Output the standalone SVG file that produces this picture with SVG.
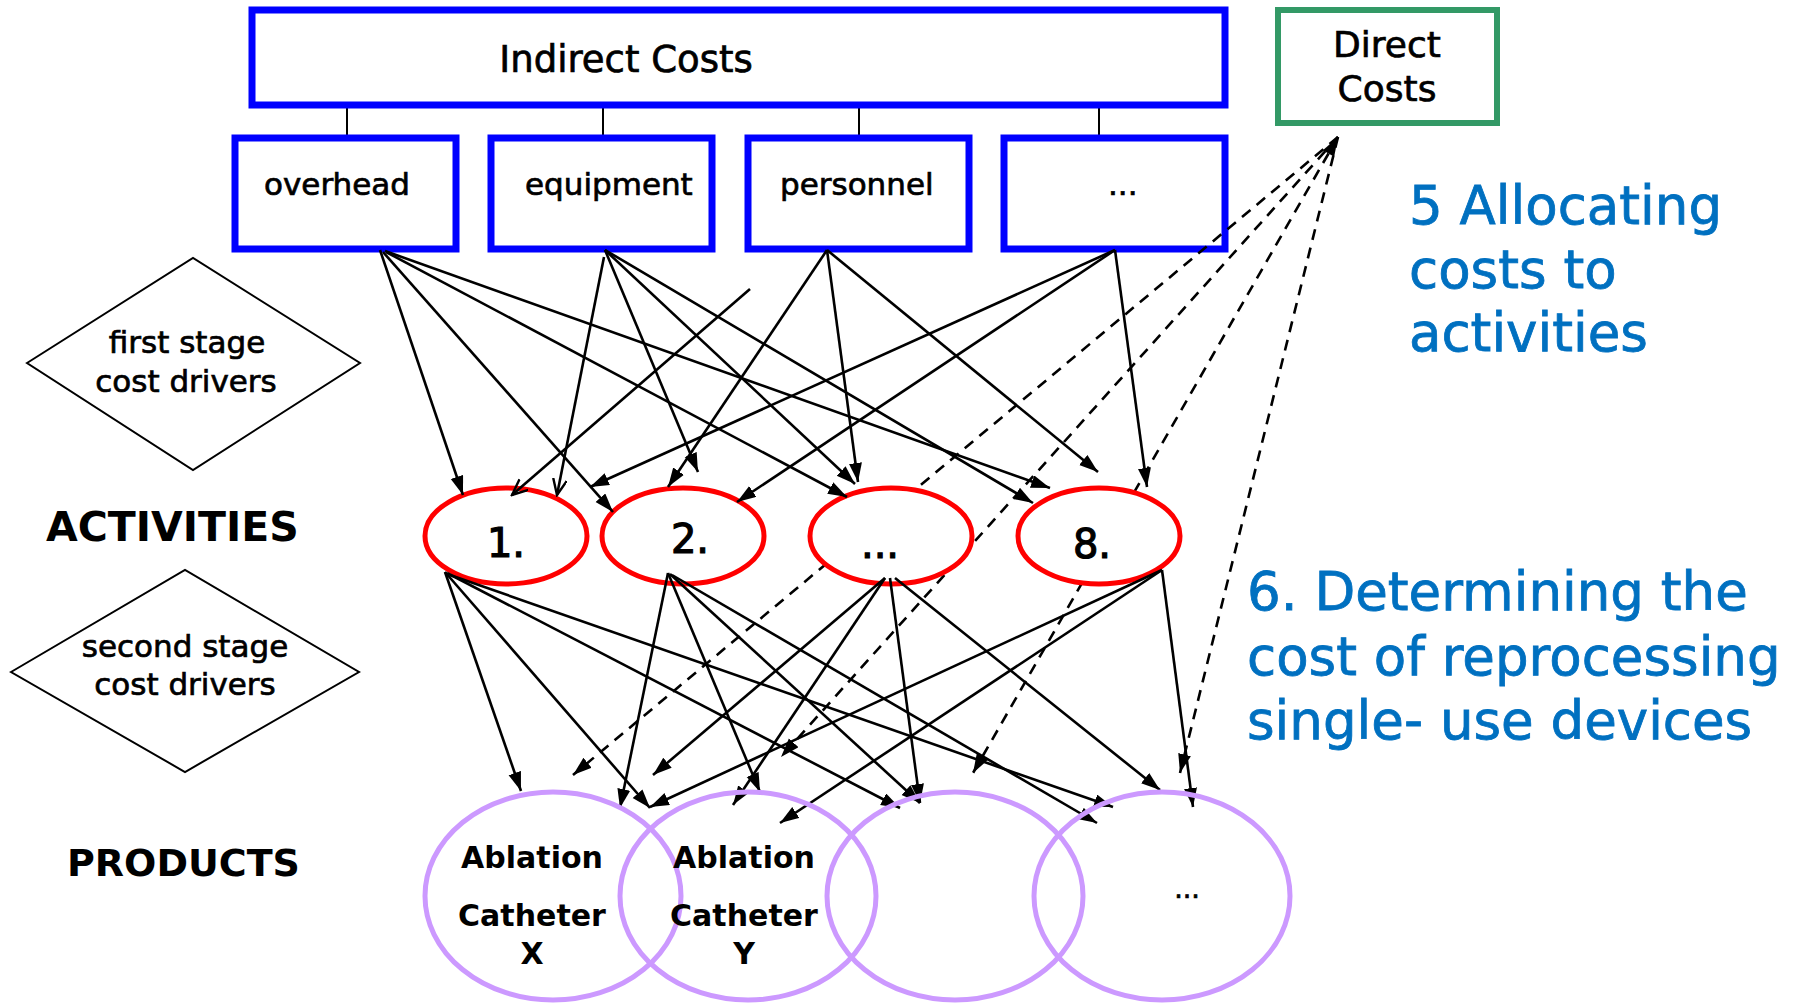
<svg xmlns="http://www.w3.org/2000/svg" width="1804" height="1005" viewBox="0 0 1804 1005">
<style>
text{font-family:"DejaVu Sans","Verdana","Liberation Sans",sans-serif;fill:#000}
.box{fill:#fff;stroke:#0000ff;stroke-width:7}
.direct{fill:#fff;stroke:#339966;stroke-width:6}
.act{fill:#fff;stroke:#ff0000;stroke-width:5}
.prod{fill:none;stroke:#cc99ff;stroke-width:5}
.dia{fill:#fff;stroke:#000;stroke-width:2}
.c{stroke:#000;stroke-width:2.6;fill:none;marker-end:url(#ah)}
.o{stroke:#000;stroke-width:2.6;fill:none;marker-end:url(#oh)}
.d{stroke:#000;stroke-width:2.6;fill:none;stroke-dasharray:11 8;marker-end:url(#ah)}
.t{stroke:#000;stroke-width:2}
.heavy{stroke:#000;stroke-width:0.7}
.blue{fill:#0070c0;font-size:53px;stroke:#0070c0;stroke-width:0.8}
.lbl{font-size:31px}
.big{font-size:41px;font-weight:bold}
.pt{font-size:30px;font-weight:bold}
.an{font-size:40px;stroke:#000;stroke-width:1.2}
</style>
<defs>
<marker id="ah" markerUnits="userSpaceOnUse" markerWidth="20" markerHeight="14" refX="19" refY="6.5" orient="auto">
<path d="M0,0 L19,6.5 L0,13 z" fill="#000"/>
</marker>
<marker id="oh" markerUnits="userSpaceOnUse" markerWidth="18" markerHeight="16" refX="16" refY="7" orient="auto">
<path d="M0,0 L16,7 L0,14" fill="none" stroke="#000" stroke-width="2.4"/>
</marker>
<marker id="as" markerUnits="userSpaceOnUse" markerWidth="20" markerHeight="14" refX="0" refY="6.5" orient="auto">
<path d="M19,0 L0,6.5 L19,13 z" fill="#000"/>
</marker>
</defs>
<rect width="1804" height="1005" fill="#fff"/>

<g id="tree-lines">
<line class="t" x1="347" y1="105" x2="347" y2="137"/>
<line class="t" x1="603" y1="105" x2="603" y2="137"/>
<line class="t" x1="859" y1="105" x2="859" y2="137"/>
<line class="t" x1="1099" y1="105" x2="1099" y2="137"/>
</g>

<g id="indirect-costs">
<rect class="box" x="252" y="10" width="973" height="95"/>
<text class="heavy" x="626" y="72" font-size="37" text-anchor="middle">Indirect Costs</text>
</g>
<g id="direct-costs">
<rect class="direct" x="1278" y="10" width="219" height="113"/>
<text class="heavy" x="1387" y="57" font-size="36" text-anchor="middle">Direct</text>
<text class="heavy" x="1387" y="101" font-size="36" text-anchor="middle">Costs</text>
</g>
<g id="overhead">
<rect class="box" x="235" y="138" width="221" height="111"/>
<text class="lbl heavy" x="264" y="195">overhead</text>
</g>
<g id="equipment">
<rect class="box" x="491" y="138" width="221" height="111"/>
<text class="lbl heavy" x="525" y="195">equipment</text>
</g>
<g id="personnel">
<rect class="box" x="748" y="138" width="221" height="111"/>
<text class="lbl heavy" x="780" y="195">personnel</text>
</g>
<g id="other-costs">
<rect class="box" x="1004" y="138" width="221" height="111"/>
<text class="lbl heavy" x="1108" y="195">...</text>
</g>

<g id="first-stage">
<polygon class="dia" points="27,363 193,258 360,363 193,470"/>
<text class="lbl heavy" x="187" y="353" text-anchor="middle">first stage</text>
<text class="lbl heavy" x="186" y="392" text-anchor="middle">cost drivers</text>
</g>
<g id="second-stage">
<polygon class="dia" points="11,672 185,570 359,672 185,772"/>
<text class="lbl heavy" x="185" y="657" text-anchor="middle">second stage</text>
<text class="lbl heavy" x="185" y="695" text-anchor="middle">cost drivers</text>
</g>
<g id="label-activities"><text class="big" x="46" y="541">ACTIVITIES</text></g>
<g id="label-products"><text class="big" x="67" y="876" style="font-size:38px">PRODUCTS</text></g>

<g id="connectors-direct">
<line class="d" x1="1338" y1="137" x2="573" y2="775"/>
<line class="d" x1="1338" y1="137" x2="781" y2="757"/>
<line class="d" x1="1338" y1="137" x2="973" y2="773" style="marker-start:url(#as)"/>
<line class="d" x1="1338" y1="137" x2="1180" y2="773"/>
</g>

<g id="act-1"><ellipse class="act" cx="506" cy="536" rx="81" ry="48"/><text class="an" x="506" y="557" text-anchor="middle">1.</text></g>
<g id="act-2"><ellipse class="act" cx="683" cy="536" rx="81" ry="48"/><text class="an" x="690" y="553" text-anchor="middle">2.</text></g>
<g id="act-etc"><ellipse class="act" cx="891" cy="536" rx="81" ry="48"/><text class="an" x="880" y="558" text-anchor="middle">...</text></g>
<g id="act-8"><ellipse class="act" cx="1099" cy="536" rx="81" ry="48"/><text class="an" x="1092" y="558" text-anchor="middle">8.</text></g>

<g id="connectors">
<!-- first stage -->
<line class="c" x1="380" y1="250" x2="463" y2="495"/>
<line class="c" x1="383" y1="252" x2="613" y2="512"/>
<line class="c" x1="386" y1="252" x2="847" y2="497"/>
<line class="c" x1="385" y1="251" x2="1050" y2="488"/>
<line class="o" x1="604" y1="257" x2="557" y2="495"/>
<line class="c" x1="605" y1="250" x2="698" y2="472"/>
<line class="c" x1="605" y1="250" x2="855" y2="484"/>
<line class="c" x1="605" y1="250" x2="1033" y2="503"/>
<line class="c" x1="827" y1="250" x2="668" y2="487"/>
<line class="c" x1="827" y1="250" x2="858" y2="482"/>
<line class="c" x1="827" y1="250" x2="1098" y2="472"/>
<line class="c" x1="1115" y1="250" x2="590" y2="487"/>
<line class="c" x1="1115" y1="250" x2="737" y2="502"/>
<line class="c" x1="1115" y1="250" x2="1147" y2="487"/>
<line class="o" x1="750" y1="289" x2="512" y2="495"/>
<!-- second stage -->
<line class="c" x1="445" y1="572" x2="521" y2="791"/>
<line class="c" x1="445" y1="572" x2="650" y2="808"/>
<line class="c" x1="447" y1="573" x2="900" y2="808"/>
<line class="c" x1="450" y1="575" x2="1113" y2="807"/>
<line class="c" x1="668" y1="573" x2="620" y2="808"/>
<line class="c" x1="668" y1="573" x2="760" y2="792"/>
<line class="c" x1="670" y1="574" x2="920" y2="803"/>
<line class="c" x1="672" y1="575" x2="1097" y2="823"/>
<line class="c" x1="885" y1="578" x2="653" y2="775"/>
<line class="c" x1="885" y1="578" x2="733" y2="805"/>
<line class="c" x1="890" y1="578" x2="920" y2="803"/>
<line class="c" x1="895" y1="578" x2="1160" y2="790"/>
<line class="c" x1="1162" y1="570" x2="650" y2="807"/>
<line class="c" x1="1162" y1="570" x2="780" y2="823"/>
<line class="c" x1="1162" y1="570" x2="1193" y2="807"/>
</g>

<g id="prod-x"><ellipse class="prod" cx="553" cy="896" rx="128" ry="104"/>
<text class="pt" x="532" y="868" text-anchor="middle">Ablation</text>
<text class="pt" x="532" y="926" text-anchor="middle">Catheter</text>
<text class="pt" x="532" y="964" text-anchor="middle">X</text></g>
<g id="prod-y"><ellipse class="prod" cx="748" cy="896" rx="128" ry="104"/>
<text class="pt" x="744" y="868" text-anchor="middle">Ablation</text>
<text class="pt" x="744" y="926" text-anchor="middle">Catheter</text>
<text class="pt" x="744" y="964" text-anchor="middle">Y</text></g>
<g id="prod-3"><ellipse class="prod" cx="955" cy="896" rx="128" ry="104"/></g>
<g id="prod-etc"><ellipse class="prod" cx="1162" cy="896" rx="128" ry="104"/>
<text class="heavy" x="1187" y="898" font-size="27" text-anchor="middle">...</text></g>

<g id="note-5">
<text class="blue" x="1409" y="224">5 Allocating</text>
<text class="blue" x="1409" y="288">costs to</text>
<text class="blue" x="1409" y="351">activities</text>
</g>
<g id="note-6">
<text class="blue" x="1247" y="610">6. Determining the</text>
<text class="blue" x="1247" y="675">cost of reprocessing</text>
<text class="blue" x="1247" y="739">single- use devices</text>
</g>
</svg>
